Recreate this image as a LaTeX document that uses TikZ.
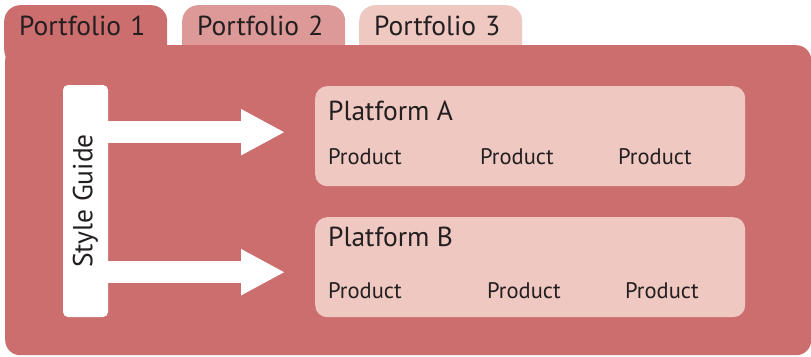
\documentclass[tikz,border=0pt]{standalone}
\usepackage{fontspec}
\setmainfont{PT Sans}
\usetikzlibrary{arrows.meta, positioning}
\definecolor{panelred}{HTML}{CD6E6E}
\definecolor{tabmid}{HTML}{DC9997}
\definecolor{tablight}{HTML}{EFC8C1}
\definecolor{inkdark}{HTML}{231F20}
\tikzset{
    base/.style = {inner sep=0pt, text=inkdark},
    % Tabs and panel
    tab/.style      = {base, anchor=north west, inner xsep=15pt, text width=133pt, align=left,
                       text height=30.5pt, text depth=30pt, rounded corners=16pt,
                       font=\fontsize{27.5}{32}\selectfont},
    panel/.style    = {base, anchor=north west, fill=panelred, minimum width=806pt,
                       minimum height=310pt, rounded corners=15pt},
    guide/.style    = {base, fill=white, rotate=90, minimum width=232pt, minimum height=45pt,
                       rounded corners=5pt, font=\fontsize{27.5}{32}\selectfont},
    platform/.style = {base, anchor=north west, fill=tablight, minimum width=430pt,
                       minimum height=100pt, rounded corners=12pt},
    % Texts
    title/.style    = {base, anchor=base west, font=\fontsize{27.5}{32}\selectfont},
    product/.style  = {base, anchor=base west, font=\fontsize{22.5}{26}\selectfont},
    % Connectors
    bigarrow/.style = {draw=white, line width=22pt, -{Triangle[length=44pt, width=43pt]}}
}

\begin{document}
\begin{tikzpicture}[x=1pt, y=-1pt]
    \useasboundingbox (0,0) rectangle (811,356);

    \node (tab2) [tab, fill=tabmid] at (182,5) {Portfolio 2};
    \node (tab3) [tab, fill=tablight] at (359,5) {Portfolio 3};
    \node (tab1) [tab, fill=panelred] at (4,5) {Portfolio 1};
    \node (main) [panel] at (5,45) {};

    \node (styleguide) [guide] at (85.5,201) {Style Guide};

    \node (platA) [platform] at (315,86) {};
    \node (platB) [platform] at (315,217) {};

    \node (titleA) [title] at (328,120.5) {Platform A};
    \node (prodA1) [product] at (328,164) {Product};
    \node (prodA2) [product] at (480,164) {Product};
    \node (prodA3) [product] at (618,164) {Product};

    \node (titleB) [title] at (328,246.5) {Platform B};
    \node (prodB1) [product] at (328,298) {Product};
    \node (prodB2) [product] at (487,298) {Product};
    \node (prodB3) [product] at (625,298) {Product};

    \draw [bigarrow] ([yshift=4pt]styleguide.south |- platA.west) -- ([yshift=4pt, xshift=-30pt]platA.west);
    \draw [bigarrow] ([yshift=-5pt]styleguide.south |- platB.west) -- ([yshift=-5pt, xshift=-30pt]platB.west);
\end{tikzpicture}
\end{document}
